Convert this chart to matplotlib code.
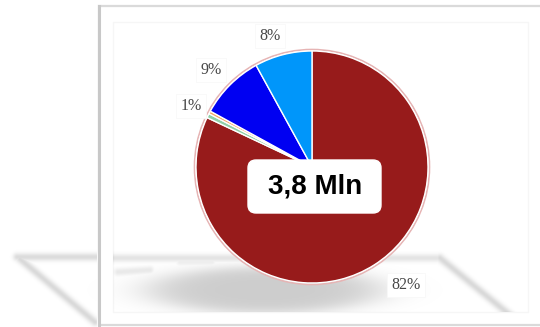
import numpy as np
import matplotlib.pyplot as plt
from matplotlib.patches import Rectangle, FancyBboxPatch, Circle

# data
shares = [82, 0.6, 0.4, 9, 8]
slice_labels = ['82%', '1%', '', '9%', '8%']
slice_colors = ['#971b1b', '#8fd0a8', '#f4a460', '#0000f2', '#0096fa']
total_label = '3,8 Mln'

W, H = 540, 327
cx, cy, r = 312, 167, 116

fig = plt.figure(figsize=(W / 100, H / 100), dpi=100)
ax = fig.add_axes([0, 0, 1, 1])

# card behind the chart
ax.add_patch(Rectangle((99, H - 325), 460, 319, facecolor='white',
                       edgecolor='#dadada', linewidth=1.6, zorder=0))
ax.plot([99, 99], [H - 325, H - 6], color='#c8c8c8', linewidth=2.2, zorder=0.5)
ax.add_patch(Rectangle((113, H - 312), 415, 290, facecolor='none',
                       edgecolor='#f6f6f6', linewidth=1, zorder=1))

# soft floor shadow, built as a blurred alpha layer
yy, xx = np.mgrid[0:H, 0:W] + 0.5


def seg_dist(x0, y0, x1, y1):
    vx, vy = x1 - x0, y1 - y0
    t = ((xx - x0) * vx + (yy - y0) * vy) / (vx * vx + vy * vy)
    t = np.clip(t, 0, 1)
    return np.hypot(xx - (x0 + t * vx), yy - (y0 + t * vy))


dark = np.zeros((H, W))
for (x0, y0, x1, y1, a) in [(17, 257, 98, 257, 0.14), (113, 258, 440, 258, 0.11),
                            (20, 259, 95, 322, 0.15), (440, 258, 510, 315, 0.15),
                            (118, 272, 150, 270, 0.09), (180, 262, 212, 262, 0.07)]:
    dark = np.maximum(dark, a * np.exp(-(seg_dist(x0, y0, x1, y1) / 4.0) ** 2))
e = np.sqrt(((xx - 265) / 114) ** 2 + ((yy - 290) / 23) ** 2)
dark = np.maximum(dark, 0.2 / (1 + np.exp((e - 1) * 7)))
dark[:, 97:113] = 0
dark[yy > 312] *= (xx[yy > 312] < 99)
shadow = np.zeros((H, W, 4))
shadow[..., 3] = dark
ax.imshow(shadow, extent=(0, W, 0, H), origin='upper', zorder=2,
          interpolation='bilinear')

# pie
ax.add_patch(Circle((cx, H - cy), r + 1.5, facecolor='none',
                    edgecolor='#e6b4b4', linewidth=1.2, zorder=3))
ax.pie(shares, colors=slice_colors, startangle=90, counterclock=False,
       center=(cx, H - cy), radius=r, frame=True,
       wedgeprops=dict(edgecolor='white', linewidth=1, zorder=4))

# percentage labels
label_pos = {'82%': (406, 285), '1%': (191, 106), '9%': (211, 70), '8%': (270, 36)}
for lab in slice_labels:
    if lab:
        x, y = label_pos[lab]
        ax.text(x, H - y, lab, ha='center', va='center', fontsize=11.5,
                family='Liberation Serif', color='#484848', zorder=6,
                bbox=dict(boxstyle='square,pad=0.25', facecolor='white',
                          edgecolor='#f8f8f8', linewidth=0.6))

# central total box
ax.add_patch(FancyBboxPatch((252, H - 209), 125, 45,
                            boxstyle='round,pad=4,rounding_size=8',
                            facecolor='white', edgecolor='white', zorder=7))
ax.text(315, H - 186, total_label, ha='center', va='center', fontsize=20,
        fontweight='bold', family='Liberation Sans', color='black', zorder=8)

ax.set_xlim(0, W)
ax.set_ylim(0, H)
ax.set_aspect('equal')
ax.axis('off')
fig.savefig('out.png', dpi=100)
